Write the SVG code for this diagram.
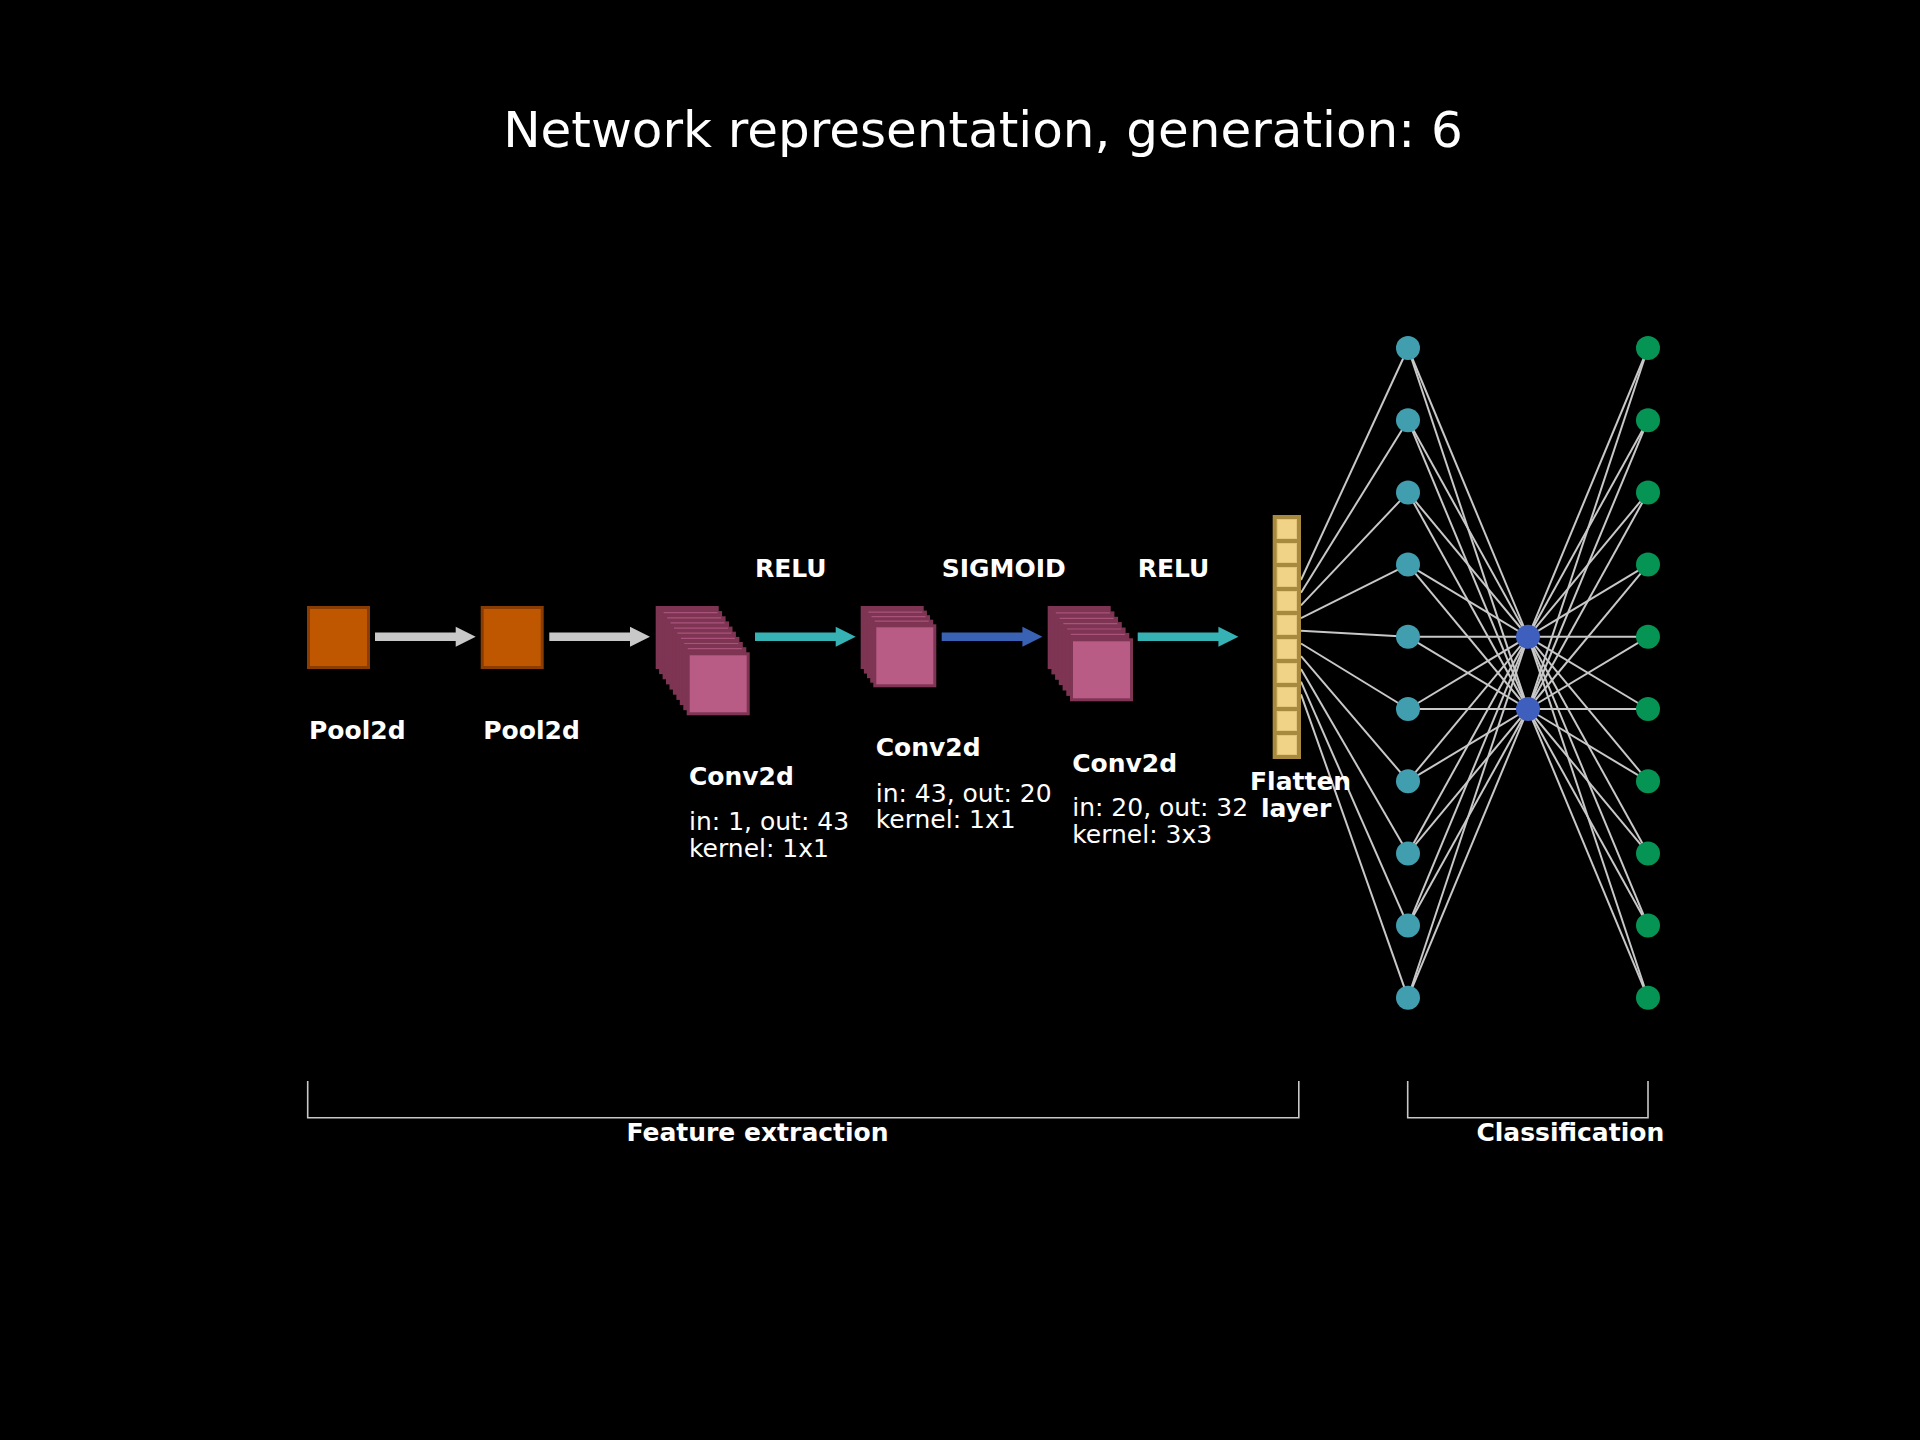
<svg xmlns="http://www.w3.org/2000/svg" xmlns:xlink="http://www.w3.org/1999/xlink" width="1920" height="1440" viewBox="0 0 1920 1440">
<style>
.t{font-family:"DejaVu Sans","Liberation Sans",sans-serif;fill:#ffffff}
.b{font-weight:bold;font-size:25px}
.r{font-size:25px}
.pool{fill:#BF5700;stroke:#8A3C02;stroke-width:3}
.back{fill:#7E3553;stroke:#7E3553;stroke-width:3}
.bl{stroke:#A9537B;stroke-width:1.2}
.front{fill:#B95C85;stroke:#7E3553;stroke-width:3}
.cell{fill:#F0D386;stroke:#E2C57A;stroke-width:1}
.edge line{stroke:#C8C8C8;stroke-width:2}
.brk{fill:none;stroke:#C8C8C8;stroke-width:1.6}
.teal{fill:#409EAF}
.blue{fill:#3F5FBF}
.green{fill:#069455}
</style>
<defs>
<path id="arr" d="M0,-4.3 H80.7 V-10 L100.7,0 L80.7,10 V4.3 H0 Z"/>
</defs>
<rect width="1920" height="1440" fill="#000000"/>
<text class="t" x="983" y="147" font-size="50" text-anchor="middle">Network representation, generation: 6</text>

<g id="pool1">
<rect class="pool" x="308.5" y="607.5" width="60" height="60"/>
<text class="t b" x="309" y="739">Pool2d</text>
</g>
<g id="pool2">
<rect class="pool" x="482.2" y="607.5" width="60" height="60"/>
<text class="t b" x="483.3" y="739">Pool2d</text>
</g>

<g id="conv1">
<rect class="back" x="657.2" y="607.5" width="60" height="60"/>
<rect class="back" x="660.6" y="612.6" width="60" height="60"/><line class="bl" x1="663.6" y1="612.6" x2="717.6" y2="612.6"/>
<rect class="back" x="664.1" y="617.8" width="60" height="60"/><line class="bl" x1="667.1" y1="617.8" x2="721.1" y2="617.8"/>
<rect class="back" x="667.5" y="622.9" width="60" height="60"/><line class="bl" x1="670.5" y1="622.9" x2="724.5" y2="622.9"/>
<rect class="back" x="671.0" y="628.1" width="60" height="60"/><line class="bl" x1="674.0" y1="628.1" x2="728.0" y2="628.1"/>
<rect class="back" x="674.4" y="633.2" width="60" height="60"/><line class="bl" x1="677.4" y1="633.2" x2="731.4" y2="633.2"/>
<rect class="back" x="677.9" y="638.4" width="60" height="60"/><line class="bl" x1="680.9" y1="638.4" x2="734.9" y2="638.4"/>
<rect class="back" x="681.3" y="643.5" width="60" height="60"/><line class="bl" x1="684.3" y1="643.5" x2="738.3" y2="643.5"/>
<rect class="back" x="684.8" y="648.7" width="60" height="60"/><line class="bl" x1="687.8" y1="648.7" x2="741.8" y2="648.7"/>
<rect class="front" x="688.2" y="653.8" width="60" height="60"/>
<text class="t b" x="689" y="785">Conv2d</text>
<text class="t r" x="689" y="830">in: 1, out: 43</text>
<text class="t r" x="689" y="856.7">kernel: 1x1</text>
</g>

<g id="conv2">
<rect class="back" x="862.2" y="607.5" width="60" height="60"/>
<rect class="back" x="865.4" y="612.1" width="60" height="60"/><line class="bl" x1="868.4" y1="612.1" x2="922.4" y2="612.1"/>
<rect class="back" x="868.5" y="616.7" width="60" height="60"/><line class="bl" x1="871.5" y1="616.7" x2="925.5" y2="616.7"/>
<rect class="back" x="871.7" y="621.2" width="60" height="60"/><line class="bl" x1="874.7" y1="621.2" x2="928.7" y2="621.2"/>
<rect class="front" x="874.8" y="625.8" width="60" height="60"/>
<text class="t b" x="875.7" y="756">Conv2d</text>
<text class="t r" x="875.7" y="801.7">in: 43, out: 20</text>
<text class="t r" x="875.7" y="828.3">kernel: 1x1</text>
</g>

<g id="conv3">
<rect class="back" x="1049.2" y="607.5" width="60" height="60"/>
<rect class="back" x="1052.9" y="612.9" width="60" height="60"/><line class="bl" x1="1055.9" y1="612.9" x2="1109.9" y2="612.9"/>
<rect class="back" x="1056.6" y="618.3" width="60" height="60"/><line class="bl" x1="1059.6" y1="618.3" x2="1113.6" y2="618.3"/>
<rect class="back" x="1060.3" y="623.6" width="60" height="60"/><line class="bl" x1="1063.3" y1="623.6" x2="1117.3" y2="623.6"/>
<rect class="back" x="1064.1" y="629.0" width="60" height="60"/><line class="bl" x1="1067.1" y1="629.0" x2="1121.1" y2="629.0"/>
<rect class="back" x="1067.8" y="634.4" width="60" height="60"/><line class="bl" x1="1070.8" y1="634.4" x2="1124.8" y2="634.4"/>
<rect class="front" x="1071.5" y="639.8" width="60" height="60"/>
<text class="t b" x="1072.2" y="771.7">Conv2d</text>
<text class="t r" x="1072.2" y="816">in: 20, out: 32</text>
<text class="t r" x="1072.2" y="843.3">kernel: 3x3</text>
</g>

<g id="arrows">
<use xlink:href="#arr" transform="translate(375,636.8)" fill="#C8C8C8"/>
<use xlink:href="#arr" transform="translate(549.3,636.8)" fill="#C8C8C8"/>
<use xlink:href="#arr" transform="translate(755,636.8)" fill="#36B1B4"/>
<use xlink:href="#arr" transform="translate(941.7,636.8)" fill="#3A62B4"/>
<use xlink:href="#arr" transform="translate(1137.7,636.8)" fill="#36B1B4"/>
<text class="t b" x="755" y="577.3">RELU</text>
<text class="t b" x="941.7" y="577.3">SIGMOID</text>
<text class="t b" x="1137.7" y="577.3">RELU</text>
</g>

<g id="edges" class="edge">
<line x1="1301" y1="580" x2="1408" y2="348"/>
<line x1="1301" y1="592.7" x2="1408" y2="420.2"/>
<line x1="1301" y1="605.4" x2="1408" y2="492.4"/>
<line x1="1301" y1="618.1" x2="1408" y2="564.6"/>
<line x1="1301" y1="630.8" x2="1408" y2="636.8"/>
<line x1="1301" y1="643.5" x2="1408" y2="709"/>
<line x1="1301" y1="656.2" x2="1408" y2="781.2"/>
<line x1="1301" y1="668.9" x2="1408" y2="853.4"/>
<line x1="1301" y1="681.6" x2="1408" y2="925.6"/>
<line x1="1301" y1="694.3" x2="1408" y2="997.8"/>

<line x1="1408" y1="348" x2="1528" y2="636.8"/>
<line x1="1408" y1="420.2" x2="1528" y2="636.8"/>
<line x1="1408" y1="492.4" x2="1528" y2="636.8"/>
<line x1="1408" y1="564.6" x2="1528" y2="636.8"/>
<line x1="1408" y1="636.8" x2="1528" y2="636.8"/>
<line x1="1408" y1="709" x2="1528" y2="636.8"/>
<line x1="1408" y1="781.2" x2="1528" y2="636.8"/>
<line x1="1408" y1="853.4" x2="1528" y2="636.8"/>
<line x1="1408" y1="925.6" x2="1528" y2="636.8"/>
<line x1="1408" y1="997.8" x2="1528" y2="636.8"/>
<line x1="1408" y1="348" x2="1528" y2="709"/>
<line x1="1408" y1="420.2" x2="1528" y2="709"/>
<line x1="1408" y1="492.4" x2="1528" y2="709"/>
<line x1="1408" y1="564.6" x2="1528" y2="709"/>
<line x1="1408" y1="636.8" x2="1528" y2="709"/>
<line x1="1408" y1="709" x2="1528" y2="709"/>
<line x1="1408" y1="781.2" x2="1528" y2="709"/>
<line x1="1408" y1="853.4" x2="1528" y2="709"/>
<line x1="1408" y1="925.6" x2="1528" y2="709"/>
<line x1="1408" y1="997.8" x2="1528" y2="709"/>

<line x1="1528" y1="636.8" x2="1648" y2="348"/>
<line x1="1528" y1="636.8" x2="1648" y2="420.2"/>
<line x1="1528" y1="636.8" x2="1648" y2="492.4"/>
<line x1="1528" y1="636.8" x2="1648" y2="564.6"/>
<line x1="1528" y1="636.8" x2="1648" y2="636.8"/>
<line x1="1528" y1="636.8" x2="1648" y2="709"/>
<line x1="1528" y1="636.8" x2="1648" y2="781.2"/>
<line x1="1528" y1="636.8" x2="1648" y2="853.4"/>
<line x1="1528" y1="636.8" x2="1648" y2="925.6"/>
<line x1="1528" y1="636.8" x2="1648" y2="997.8"/>
<line x1="1528" y1="709" x2="1648" y2="348"/>
<line x1="1528" y1="709" x2="1648" y2="420.2"/>
<line x1="1528" y1="709" x2="1648" y2="492.4"/>
<line x1="1528" y1="709" x2="1648" y2="564.6"/>
<line x1="1528" y1="709" x2="1648" y2="636.8"/>
<line x1="1528" y1="709" x2="1648" y2="709"/>
<line x1="1528" y1="709" x2="1648" y2="781.2"/>
<line x1="1528" y1="709" x2="1648" y2="853.4"/>
<line x1="1528" y1="709" x2="1648" y2="925.6"/>
<line x1="1528" y1="709" x2="1648" y2="997.8"/>
</g>

<g id="flatten">
<rect x="1272.7" y="515" width="28.3" height="244" fill="#A88A3E"/>
<rect class="cell" x="1277.2" y="519.5" width="19.3" height="19"/>
<rect class="cell" x="1277.2" y="543.5" width="19.3" height="19"/>
<rect class="cell" x="1277.2" y="567.5" width="19.3" height="19"/>
<rect class="cell" x="1277.2" y="591.5" width="19.3" height="19"/>
<rect class="cell" x="1277.2" y="615.5" width="19.3" height="19"/>
<rect class="cell" x="1277.2" y="639.5" width="19.3" height="19"/>
<rect class="cell" x="1277.2" y="663.5" width="19.3" height="19"/>
<rect class="cell" x="1277.2" y="687.5" width="19.3" height="19"/>
<rect class="cell" x="1277.2" y="711.5" width="19.3" height="19"/>
<rect class="cell" x="1277.2" y="735.5" width="19.3" height="19"/>
<text class="t b" x="1250" y="790">Flatten</text>
<text class="t b" x="1261" y="817">layer</text>
</g>

<g id="dense1">
<circle class="teal" cx="1408" cy="348" r="12"/>
<circle class="teal" cx="1408" cy="420.2" r="12"/>
<circle class="teal" cx="1408" cy="492.4" r="12"/>
<circle class="teal" cx="1408" cy="564.6" r="12"/>
<circle class="teal" cx="1408" cy="636.8" r="12"/>
<circle class="teal" cx="1408" cy="709" r="12"/>
<circle class="teal" cx="1408" cy="781.2" r="12"/>
<circle class="teal" cx="1408" cy="853.4" r="12"/>
<circle class="teal" cx="1408" cy="925.6" r="12"/>
<circle class="teal" cx="1408" cy="997.8" r="12"/>
</g>
<g id="dense2">
<circle class="blue" cx="1528" cy="636.8" r="12"/>
<circle class="blue" cx="1528" cy="709" r="12"/>
</g>
<g id="output">
<circle class="green" cx="1648" cy="348" r="12"/>
<circle class="green" cx="1648" cy="420.2" r="12"/>
<circle class="green" cx="1648" cy="492.4" r="12"/>
<circle class="green" cx="1648" cy="564.6" r="12"/>
<circle class="green" cx="1648" cy="636.8" r="12"/>
<circle class="green" cx="1648" cy="709" r="12"/>
<circle class="green" cx="1648" cy="781.2" r="12"/>
<circle class="green" cx="1648" cy="853.4" r="12"/>
<circle class="green" cx="1648" cy="925.6" r="12"/>
<circle class="green" cx="1648" cy="997.8" r="12"/>
</g>

<g id="brackets">
<path class="brk" d="M307.7,1081 V1117.7 H1298.8 V1081"/>
<path class="brk" d="M1407.7,1081 V1117.7 H1648 V1081"/>
<text class="t b" x="626.4" y="1141">Feature extraction</text>
<text class="t b" x="1476.4" y="1141">Classification</text>
</g>
</svg>
